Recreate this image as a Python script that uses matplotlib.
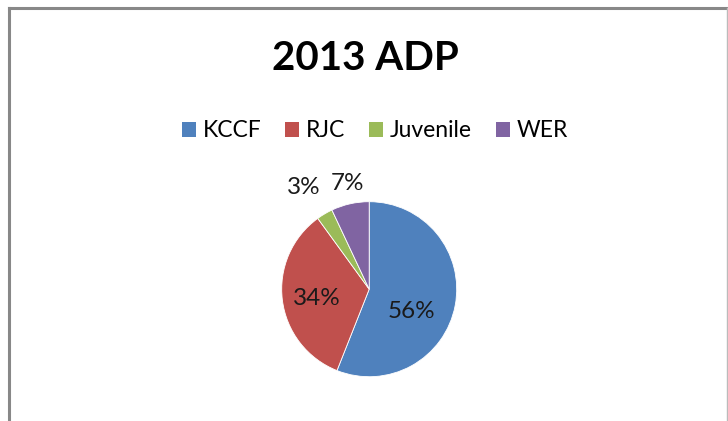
import matplotlib
matplotlib.use("Agg")
import matplotlib.pyplot as plt
from matplotlib.patches import Patch
from matplotlib.lines import Line2D

plt.rcParams['font.family'] = ['Lato', 'DejaVu Sans']

title = "2013 ADP"
categories = ["KCCF", "RJC", "Juvenile", "WER"]
shares = [56, 34, 3, 7]
colors = ["#4F81BD", "#C0504D", "#9BBB59", "#8064A2"]

# label offsets from pie centre, in radius units (Excel best-fit placement)
label_offsets = [(0.48, -0.26), (-0.60, -0.11), (-0.75, 1.16), (-0.25, 1.21)]

W, H = 728, 421
fig = plt.figure(figsize=(W / 100, H / 100), dpi=100)

# chart frame
fig.add_artist(Line2D([9 / W, 9 / W], [0, 1 - 8 / H], transform=fig.transFigure,
                      color="#888888", lw=2.2))
fig.add_artist(Line2D([9 / W, 1], [1 - 8 / H, 1 - 8 / H], transform=fig.transFigure,
                      color="#888888", lw=2.2))
fig.add_artist(Line2D([726.5 / W, 726.5 / W], [0, 1 - 8 / H], transform=fig.transFigure,
                      color="#BBBBBB", lw=1))

# pie axes: centre (369, 289), radius 87.5 px
cx, cy, r = 369.2, 289.2, 87.5
ax = fig.add_axes([(cx - r) / W, (H - cy - r) / H, 2 * r / W, 2 * r / H])
wedges, texts, autotexts = ax.pie(shares, colors=colors, startangle=90, counterclock=False,
                                  autopct="%d%%", radius=1,
                                  wedgeprops=dict(edgecolor="white", linewidth=0.6),
                                  textprops=dict(fontsize=17.5, color="#1a1a1a"))
for t, (dx, dy) in zip(autotexts, label_offsets):
    t.set_position((dx, dy))
    t.set_ha("center")
    t.set_va("center")
ax.set_xlim(-1, 1)
ax.set_ylim(-1, 1)
ax.set_aspect("equal")
ax.axis("off")

fig.text(365 / W, 1 - 58 / H, title, ha="center", va="center",
         fontsize=29, fontweight="bold", color="black")

handles = [Patch(facecolor=c, edgecolor="none") for c in colors]
fig.legend(handles, categories, loc="center", bbox_to_anchor=(375 / W, 1 - 131 / H),
           ncol=4, frameon=False, fontsize=16.5, handlelength=0.6, handleheight=0.6,
           handletextpad=0.3, columnspacing=1.05)

fig.savefig("out.png", dpi=100, facecolor="white")
